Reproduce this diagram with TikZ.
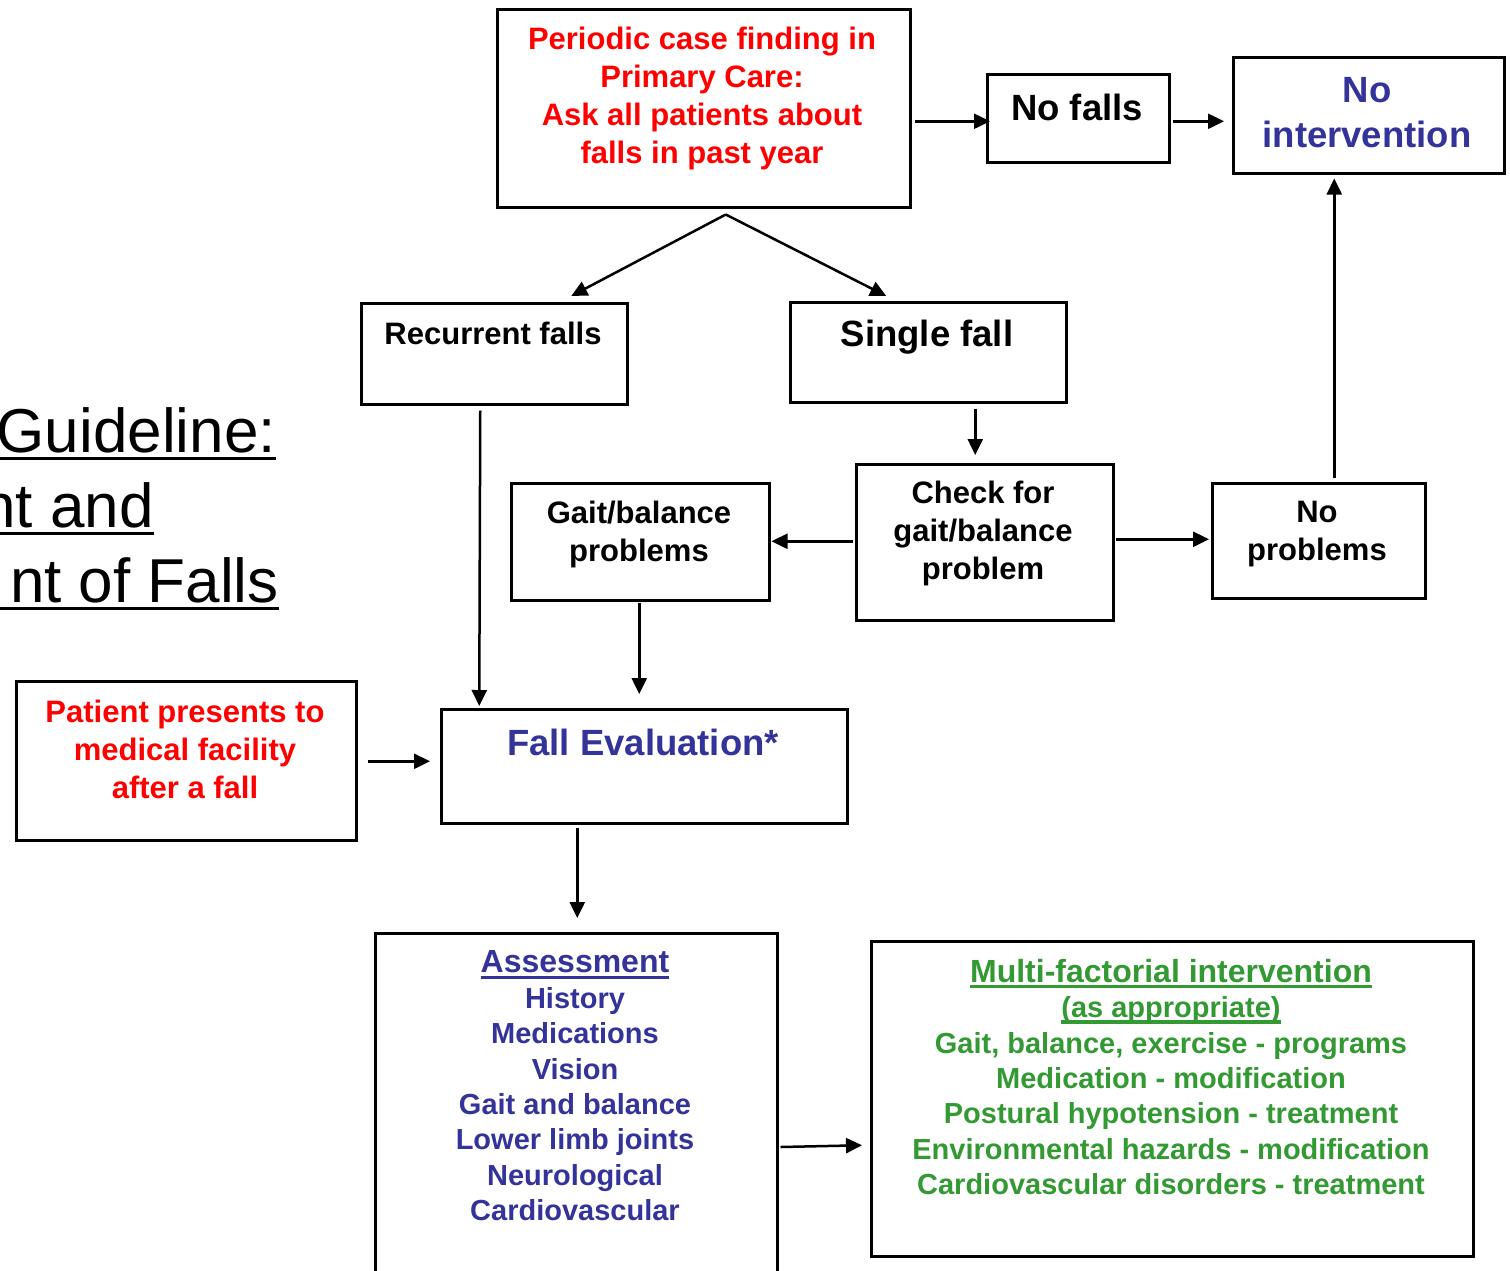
\documentclass[tikz,border=0pt]{standalone}
\usepackage{fontspec}
\setmainfont{Liberation Sans}
\usetikzlibrary{arrows.meta}
\definecolor{cred}{HTML}{FF0000}
\definecolor{cblue}{HTML}{333399}
\definecolor{cgreen}{HTML}{339933}
\newcommand{\myul}[1]{\setbox0\hbox{#1}\rlap{\rule[-6pt]{\wd0}{3.2pt}}\box0}
\newcommand{\hdline}[1]{{\fontsize{32}{35.4}\selectfont\myul{#1}}}
\begin{document}
\begin{tikzpicture}[x=1pt,y=-1pt,
  box/.style={draw, line width=2.5pt, inner sep=0pt, anchor=north west},
  txt/.style={font=\bfseries\fontsize{31}{38}\selectfont, align=center, inner sep=0pt},
  bigtxt/.style={font=\bfseries\fontsize{36.5}{45}\selectfont, align=center, inner sep=0pt},
  smalltxt/.style={font=\bfseries\fontsize{29}{35.4}\selectfont, align=center, inner sep=0pt},
  titletxt/.style={font=\fontsize{62}{77}\selectfont, inner sep=0pt, anchor=base east},
  arr/.style={line width=2.5pt, -{Triangle[length=16pt,width=15pt]}}
]
\useasboundingbox (0,0) rectangle (1510,1270);
\clip (0,0) rectangle (1510,1270);
\fill[white] (0,0) rectangle (1510,1270);

% title (clipped at the left edge, as in the reference)
\node[titletxt] (t1) at (276,452) {Guideline:};
\node[titletxt] (t2) at (154,527) {nt and};
\node[titletxt] (t3) at (279,602) {nt of Falls};
\foreach \t in {t1,t2,t3}
  \draw[line width=3.8pt] ([yshift=-6.5pt,xshift=-40pt]\t.base west) -- ([yshift=-6.5pt]\t.base east);

% boxes
\node[box, minimum width=413pt, minimum height=198pt] (top) at (496,8) {};
\node[box, minimum width=182pt, minimum height=88pt] (nofalls) at (986,73) {};
\node[box, minimum width=271pt, minimum height=116pt] (noint) at (1232,56) {};
\node[box, minimum width=266pt, minimum height=101pt] (rec) at (360,302) {};
\node[box, minimum width=276pt, minimum height=100pt] (sing) at (789,301) {};
\node[box, minimum width=257pt, minimum height=156pt] (check) at (855,463) {};
\node[box, minimum width=258pt, minimum height=117pt] (gait) at (510,482) {};
\node[box, minimum width=213pt, minimum height=115pt] (noprob) at (1211,482) {};
\node[box, minimum width=340pt, minimum height=159pt] (patient) at (15,680) {};
\node[box, minimum width=406pt, minimum height=114pt] (feval) at (440,708) {};
\node[box, minimum width=402pt, minimum height=358pt] (assess) at (374,932) {};
\node[box, minimum width=602pt, minimum height=315pt] (multi) at (870,940) {};

% texts
\node[txt, text=cred] (topt) at (702,98.5) {Periodic case finding in\\Primary Care:\\Ask all patients about\\falls in past year};
\node[bigtxt] (nofallst) at (1077,107.5) {No falls};
\node[bigtxt, text=cblue] (nointt) at (1367,113) {No\\intervention};
\node[txt] (rect) at (493,333) {Recurrent falls};
\node[bigtxt] (singt) at (927,337.5) {Single fall};
\node[txt] (checkt) at (983,533.5) {Check for\\gait/balance\\problem};
\node[txt] (gaitt) at (639,534) {Gait/balance\\problems};
\node[txt] (noprobt) at (1317,534) {No\\problems};
\node[txt, text=cred] (patientt) at (185,749) {Patient presents to\\medical facility\\after a fall};
\node[bigtxt, text=cblue] (fevalt) at (643,742) {Fall Evaluation*};
\node[smalltxt, text=cblue] (assesst) at (575,1086) {\hdline{Assessment}\\History\\Medications\\Vision\\Gait and balance\\Lower limb joints\\Neurological\\Cardiovascular};
\node[smalltxt, text=cgreen] (multit) at (1171,1077) {\hdline{Multi-factorial intervention}\\\myul{(as appropriate)}\\Gait, balance, exercise - programs\\Medication - modification\\Postural hypotension - treatment\\Environmental hazards - modification\\Cardiovascular disorders - treatment};

% connectors
\draw[arr] ([xshift=3pt,yshift=-13pt]top.east) -- ([xshift=4pt,yshift=-3pt]nofalls.west);
\draw[arr] ([xshift=2pt,yshift=-3pt]nofalls.east) -- ([xshift=-8pt,yshift=-6pt]noint.west);
\coordinate (fork) at ([xshift=22pt,yshift=-6pt]top.south);
\draw[arr] (fork) -- ([xshift=77pt,yshift=6pt]rec.north);
\draw[arr] (fork) -- ([xshift=-42pt,yshift=5pt]sing.north);
\draw[arr] ([xshift=-14pt,yshift=-5pt]rec.south) -- ([xshift=-165pt,yshift=2pt]feval.north);
\draw[arr] ([xshift=47pt,yshift=-5pt]sing.south) -- ([xshift=-9.5pt,yshift=8pt]check.north);
\draw[arr] ([xshift=-2pt,yshift=1pt]check.west) -- ([xshift=1pt,yshift=0.5pt]gait.east);
\draw[arr] ([xshift=1pt,yshift=3pt]check.east) -- ([xshift=-2pt,yshift=1.5pt]noprob.west);
\draw[arr] ([xshift=15.5pt,yshift=4pt]noprob.north) -- ([xshift=-34.5pt,yshift=-4pt]noint.south);
\draw[arr] ([xshift=-1pt,yshift=-1pt]gait.south) -- ([xshift=-5pt,yshift=14pt]feval.north);
\draw[arr] ([xshift=10pt,yshift=-0.5pt]patient.east) -- ([xshift=-10pt,yshift=5pt]feval.west);
\draw[arr] ([xshift=-67pt,yshift=-3pt]feval.south) -- ([xshift=1pt,yshift=14pt]assess.north);
\draw[arr] ([xshift=2pt,yshift=-215pt]assess.north east) -- ([xshift=-8pt,yshift=-46.5pt]multi.west);
\end{tikzpicture}
\end{document}
